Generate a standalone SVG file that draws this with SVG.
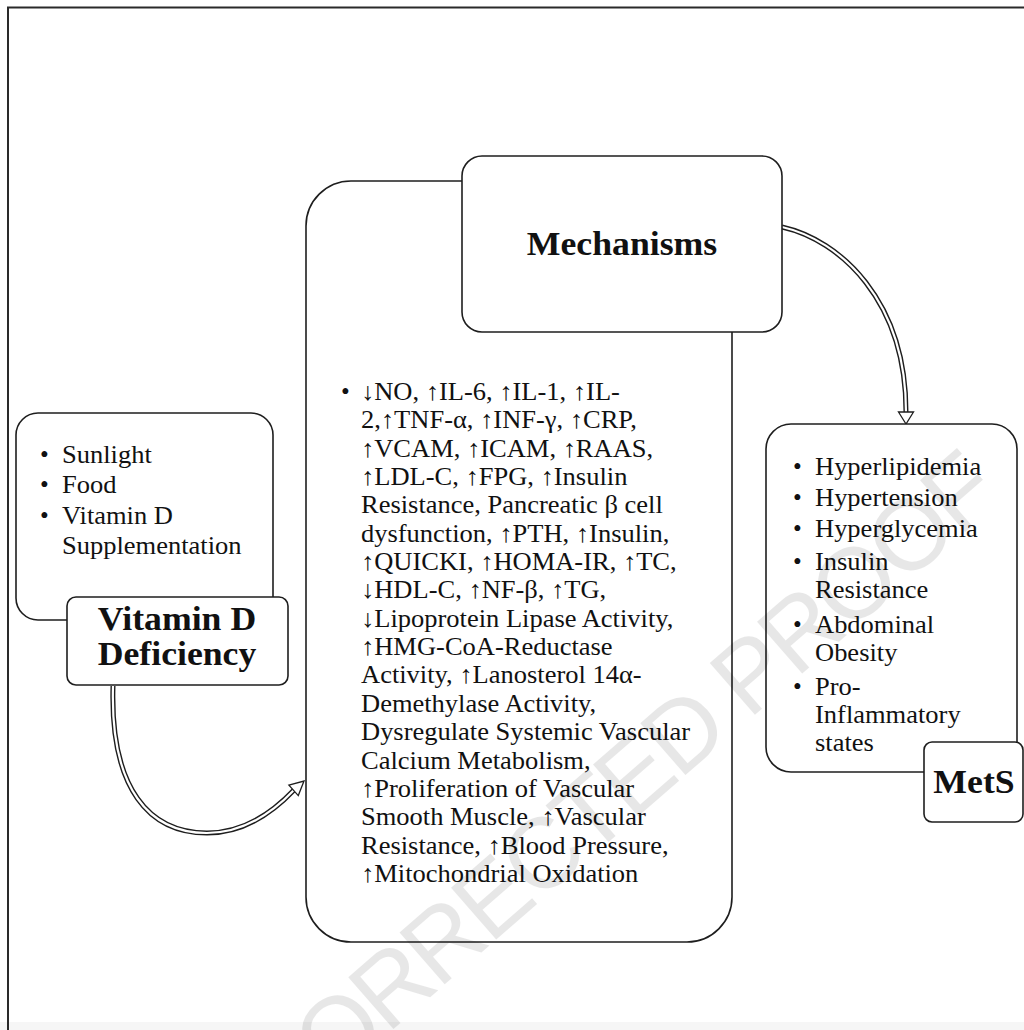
<svg xmlns="http://www.w3.org/2000/svg" width="1024" height="1030" viewBox="0 0 1024 1030">
<style>
.box{fill:#fff;stroke:#1e1e1e;stroke-width:1.6}
.t{font-family:"Liberation Serif","Times New Roman",serif;font-size:25px;fill:#111}
.b{font-family:"Liberation Serif","Times New Roman",serif;font-size:34px;font-weight:bold;fill:#111;text-anchor:middle}
.sh{fill:none;stroke:#1e1e1e;stroke-width:5}
.si{fill:none;stroke:#fff;stroke-width:2.2}
.ah{fill:#fff;stroke:#1e1e1e;stroke-width:1.3;stroke-linejoin:miter}
</style>
<rect x="0" y="0" width="1024" height="1030" fill="#fff"/>
<rect x="0" y="1022" width="1024" height="8" fill="#f6f6f6"/>
<g id="frame" fill="none" stroke="#2a2a2a" stroke-width="2">
<path d="M8,1030 V7.5 H1024"/>
</g>

<g id="connectors">
<path class="sh" d="M113,686 C110,790 150,833 207,833 C245,833 275,810 294,790"/>
<path class="si" d="M113,686 C110,790 150,833 207,833 C245,833 275,810 294,790"/>
<polygon class="ah" points="304,781 298.3,795.6 288.9,785.2"/>
<path class="sh" d="M782,227 C840,240 906,300 906,412"/>
<path class="si" d="M782,227 C840,240 906,300 906,412"/>
<polygon class="ah" points="906,424 898.5,412 913.5,412"/>
</g>

<g id="sources">
<rect class="box" x="16" y="413" width="257" height="207" rx="22"/>
<g class="t">
<text x="40" y="463">•</text>
<text x="40" y="493">•</text>
<text x="40" y="524">•</text>
<g transform="translate(62,0) scale(1.06,1)">
<text x="0" y="463">Sunlight</text>
<text x="0" y="493">Food</text>
<text x="0" y="524">Vitamin D</text>
<text x="0" y="554">Supplementation</text>
</g>
</g>
</g>

<g id="vitd-deficiency">
<rect class="box" x="67" y="597" width="221" height="88" rx="9"/>
<text class="b" transform="translate(177,630) scale(1.05,1)">Vitamin D</text>
<text class="b" transform="translate(177,665) scale(1.05,1)">Deficiency</text>
</g>

<g id="mechanisms-list">
<rect class="box" x="306" y="181" width="426" height="761" rx="45"/>
<g class="t">
<text x="341" y="400">•</text>
<g transform="translate(361,0) scale(1.06,1)">
<text x="0" y="400">↓NO, ↑IL-6, ↑IL-1, ↑IL-</text>
<text x="0" y="428.4">2,↑TNF-α, ↑INF-γ, ↑CRP,</text>
<text x="0" y="456.7">↑VCAM, ↑ICAM, ↑RAAS,</text>
<text x="0" y="485.1">↑LDL-C, ↑FPG, ↑Insulin</text>
<text x="0" y="513.4">Resistance, Pancreatic β cell</text>
<text x="0" y="541.8">dysfunction, ↑PTH, ↑Insulin,</text>
<text x="0" y="570.1">↑QUICKI, ↑HOMA-IR, ↑TC,</text>
<text x="0" y="598.5">↓HDL-C, ↑NF-β, ↑TG,</text>
<text x="0" y="626.8">↓Lipoprotein Lipase Activity,</text>
<text x="0" y="655.2">↑HMG-CoA-Reductase</text>
<text x="0" y="683.5">Activity, ↑Lanosterol 14α-</text>
<text x="0" y="711.9">Demethylase Activity,</text>
<text x="0" y="740.2">Dysregulate Systemic Vascular</text>
<text x="0" y="768.6">Calcium Metabolism,</text>
<text x="0" y="796.9">↑Proliferation of Vascular</text>
<text x="0" y="825.3">Smooth Muscle, ↑Vascular</text>
<text x="0" y="853.6">Resistance, ↑Blood Pressure,</text>
<text x="0" y="882">↑Mitochondrial Oxidation</text>
</g>
</g>
</g>

<g id="mechanisms-title">
<rect class="box" x="462" y="156" width="320" height="176" rx="20"/>
<text class="b" transform="translate(622,255) scale(1.05,1)">Mechanisms</text>
</g>

<g id="mets-list">
<rect class="box" x="766" y="424" width="251" height="348" rx="25"/>
<g class="t">
<text x="793" y="475">•</text>
<text x="793" y="506">•</text>
<text x="793" y="537">•</text>
<text x="793" y="570">•</text>
<text x="793" y="633">•</text>
<text x="793" y="695">•</text>
<g transform="translate(815,0) scale(1.06,1)">
<text x="0" y="475">Hyperlipidemia</text>
<text x="0" y="506">Hypertension</text>
<text x="0" y="537">Hyperglycemia</text>
<text x="0" y="570">Insulin</text>
<text x="0" y="598">Resistance</text>
<text x="0" y="633">Abdominal</text>
<text x="0" y="661">Obesity</text>
<text x="0" y="695">Pro-</text>
<text x="0" y="723">Inflammatory</text>
<text x="0" y="751">states</text>
</g>
</g>
</g>

<g id="mets-title">
<rect class="box" x="924" y="742" width="99" height="80" rx="8"/>
<text class="b" transform="translate(974,793) scale(1.05,1)">MetS</text>
</g>

<g id="watermark" opacity="0.09">
<text transform="translate(1002,500) rotate(-41)" font-family="Liberation Sans, Arial, sans-serif" font-size="100" text-anchor="end" letter-spacing="-4" fill="#000">UNCORRECTED PROOF</text>
</g>
</svg>
